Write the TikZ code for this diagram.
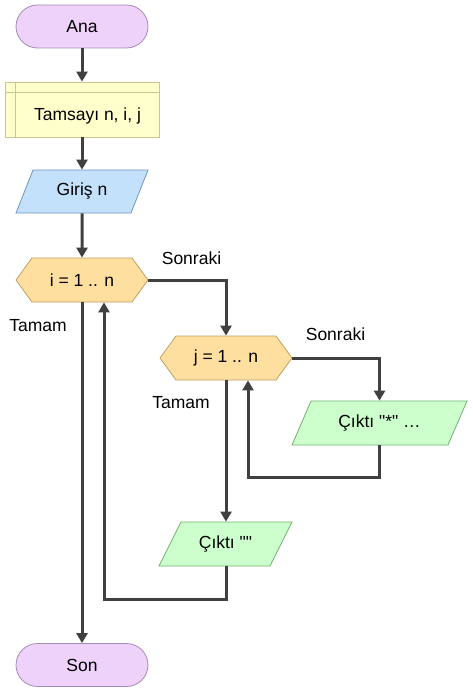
\documentclass[tikz,border=0pt]{standalone}
\usepackage{fontspec}
\setmainfont{Liberation Sans}[Ligatures=TeXOff]
\usetikzlibrary{arrows.meta,shapes.geometric,shapes.symbols}

\definecolor{termfill}{RGB}{238,210,250}
\definecolor{termline}{RGB}{165,139,181}
\definecolor{declfill}{RGB}{255,255,204}
\definecolor{declline}{RGB}{200,200,150}
\definecolor{infill}{RGB}{195,225,250}
\definecolor{inline}{RGB}{110,150,190}
\definecolor{loopfill}{RGB}{255,223,160}
\definecolor{loopline}{RGB}{192,160,96}
\definecolor{outfill}{RGB}{204,255,204}
\definecolor{outline}{RGB}{112,176,112}
\definecolor{flowline}{RGB}{64,64,64}

\tikzset{
  box/.style={line width=0.8pt, inner sep=0pt, font=\fontsize{17.5}{20}\selectfont},
  term/.style={box, draw=termline, fill=termfill, rounded corners=21.5pt,
    minimum width=132pt, minimum height=43pt},
  decl/.style={box, draw=declline, fill=declfill,
    minimum width=154pt, minimum height=55pt},
  slanted/.style={box, trapezium, trapezium stretches body,
    text height=12.5pt, text depth=4pt},
  inbox/.style={slanted, draw=inline, fill=infill,
    trapezium left angle=68.4, trapezium right angle=111.6,
    inner ysep=13.25pt, minimum width=132pt},
  outbox/.style={slanted, draw=outline, fill=outfill, inner ysep=13.75pt},
  loopbox/.style={box, signal, signal to=west and east, signal pointer angle=108,
    draw=loopline, fill=loopfill, minimum width=132pt, minimum height=44pt},
  lbl/.style={font=\fontsize{17.5}{20}\selectfont, inner sep=0pt},
  flow/.style={draw=flowline, line width=3pt, -{Triangle[length=10pt,width=11pt]}}
}

\begin{document}
\begin{tikzpicture}[x=1pt,y=1pt]

    % page frame
    \useasboundingbox (0,0) rectangle (473,-693);

    % main chain
    \node[term] (ana) at (82,-26.5) {Ana};
    \node[decl] (decl) at (82,-109.5) {};
    \node[lbl] (decltext) at (87.5,-115.5) {Tamsayı n, i, j};
    \draw[declline, line width=0.8pt] ([xshift=11pt]decl.north west) -- ([xshift=11pt]decl.south west);
    \draw[declline, line width=0.8pt] ([yshift=-11pt]decl.north west) -- ([yshift=-11pt]decl.north east);
    \node[inbox] (giris) at (82,-191.5) {Giriş n};

    % outer loop
    \node[loopbox] (iloop) at (82,-280) {i = 1 .. n};
    \node[lbl] (inext) at ([xshift=43pt,yshift=22pt]iloop.east) {Sonraki};
    \node[lbl] (idone) at ([xshift=-44pt,yshift=-23pt]iloop.south) {Tamam};

    % inner loop
    \node[loopbox] (jloop) at (226,-358) {j = 1 .. n};
    \node[lbl] (jnext) at ([xshift=43pt,yshift=24pt]jloop.east) {Sonraki};
    \node[lbl] (jdone) at ([xshift=-45pt,yshift=-22pt]jloop.south) {Tamam};

    % outputs
    \node[outbox, trapezium left angle=66.6, trapezium right angle=113.4,
      minimum width=175pt] (star) at (379.5,-423) {Çıktı "*" …};
    \node[outbox, trapezium left angle=63.4, trapezium right angle=116.6,
      minimum width=133pt] (blank) at (225.5,-544) {Çıktı ""};

    \node[term] (son) at (82,-665) {Son};

    % connectors
    \draw[flow] (ana) -- (decl);
    \draw[flow] (decl) -- (giris);
    \draw[flow] (giris) -- (iloop);
    \draw[flow] (iloop.east) -| (jloop.north);
    \draw[flow] (jloop.east) -| (star.north);
    \draw[flow] (star.south) -- ++(0,-32) -| ([xshift=22pt]jloop.south);
    \draw[flow] (jloop.south) -- (jloop.south |- blank.north);
    \draw[flow] (blank.south -| jloop.south) -- ++(0,-33) -| ([xshift=22pt]iloop.south);
    \draw[flow] (iloop.south) -- (son.north);

\end{tikzpicture}
\end{document}
